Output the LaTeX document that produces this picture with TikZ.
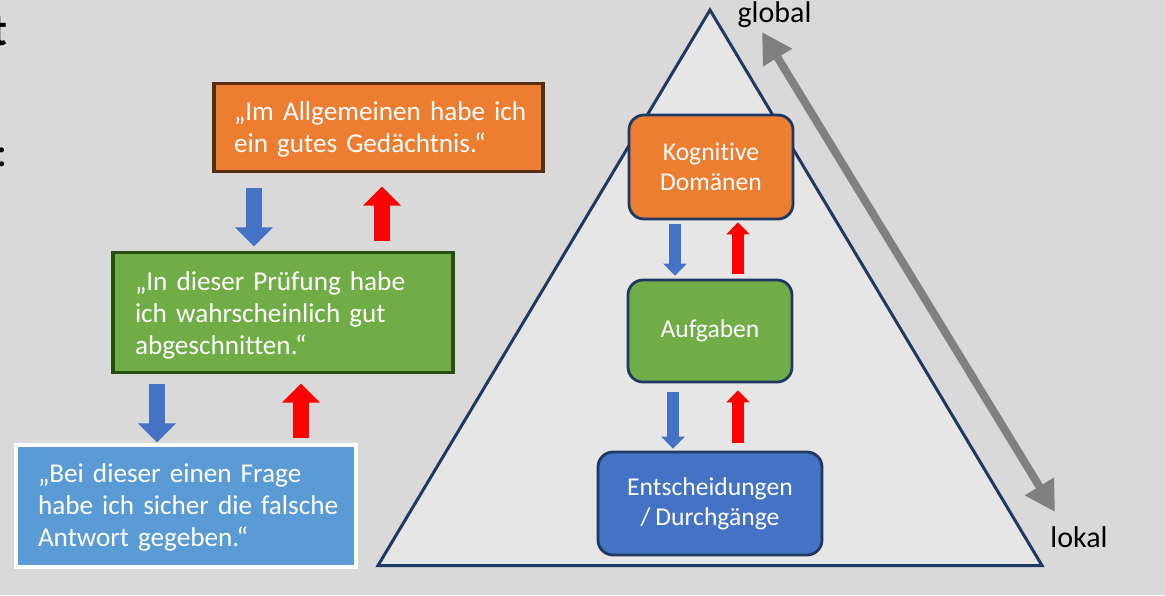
\documentclass[tikz,border=0pt]{standalone}
\usepackage{fontspec}
\setmainfont{Carlito}[WordSpace=0.85,Ligatures=NoCommon]
\usetikzlibrary{arrows.meta}
\definecolor{bgc}{HTML}{D9D9D9}
\definecolor{trifill}{HTML}{E7E6E6}
\definecolor{navy}{HTML}{1F3864}
\definecolor{orangec}{HTML}{ED7D31}
\definecolor{orangeb}{HTML}{5A2D0C}
\definecolor{greenc}{HTML}{70AD47}
\definecolor{greenb}{HTML}{274E13}
\definecolor{lblue}{HTML}{5B9BD5}
\definecolor{dblue}{HTML}{4472C4}
\definecolor{arrblue}{HTML}{4472C4}
\definecolor{arrred}{HTML}{FF0000}
\definecolor{grayarr}{HTML}{808080}
\tikzset{
  quotebox/.style={draw, line width=1.6pt, text=white, align=left, inner xsep=0pt,
    font=\fontsize{13.6}{16}\selectfont},
  levelbox/.style={draw=navy, line width=1.4pt, rounded corners=7.5pt, text=white, align=center,
    font=\fontsize{12.8}{15}\selectfont},
  bigdown/.style={draw=arrblue, line width=8pt, -{Triangle[width=18.5pt,length=9.5pt]}},
  bigup/.style={draw=arrred, line width=8pt, -{Triangle[width=18.5pt,length=9.5pt]}},
  smalldown/.style={draw=arrblue, line width=6pt, -{Triangle[width=11.5pt,length=6pt]}},
  smallup/.style={draw=arrred, line width=6pt, -{Triangle[width=11.5pt,length=6pt]}},
  scalearr/.style={draw=grayarr, line width=4pt, {Triangle[width=16pt,length=15pt]}-{Triangle[width=16pt,length=15pt]}},
  axislabel/.style={font=\fontsize{15}{18}\selectfont, text=black}
}
\begin{document}
\begin{tikzpicture}[x=0.5pt,y=-0.5pt]
\fill[bgc] (0,0) rectangle (1165,595);
\useasboundingbox (0,0) rectangle (1165,595);

% cut-off slide text at left edge
\node[anchor=base east, inner sep=0pt, font=\fontsize{23}{28}\selectfont\bfseries] (tcut) at (8,45) {t};
\node[anchor=base east, inner sep=0pt, font=\fontsize{21}{26}\selectfont] (colcut) at (8,166) {:};

% pyramid
\draw[navy, line width=1.5pt, fill=trifill, line join=miter] (710,10) -- (378,565.5) -- (1042,565.5) -- cycle;

% scale arrow
\coordinate (gtop) at (762,32);
\coordinate (gbot) at (1055,512);
\draw[scalearr] (gtop) -- (gbot);
\node[axislabel, anchor=base] (glob) at (774.5,22) {global};
\node[axislabel, anchor=base] (lok) at (1079,547) {lokal};

% left quote boxes
\node[quotebox, draw=orangeb, fill=orangec, minimum width=164.5pt, minimum height=44pt, text width=164.5pt,
  execute at begin node={\leftskip=10pt}] (o) at (378.5,127.5)
  {\rule{0pt}{11.5pt}„Im Allgemeinen habe ich\\ein gutes Gedächtnis.“};
\node[quotebox, draw=greenb, fill=greenc, minimum width=170pt, minimum height=60pt, text width=170pt,
  execute at begin node={\leftskip=11pt}] (g) at (283,312.5)
  {\rule{0pt}{12pt}„In dieser Prüfung habe\\ich wahrscheinlich gut\\abgeschnitten.“};
\node[quotebox, draw=white, fill=lblue, minimum width=170pt, minimum height=61pt, text width=170pt,
  execute at begin node={\leftskip=11pt}] (b) at (186,506)
  {\rule{0pt}{11pt}„Bei dieser einen Frage\\habe ich sicher die falsche\\Antwort gegeben.“};

\coordinate (x1) at (254,0);
\coordinate (x2) at (382,0);
\coordinate (x3) at (157,0);
\coordinate (x4) at (301,0);
\draw[bigdown, shorten <=7.25pt, shorten >=2.25pt] (o.south -| x1) -- (g.north -| x1);
\draw[bigup, shorten <=4.75pt, shorten >=6.75pt] (g.north -| x2) -- (o.south -| x2);
\draw[bigdown, shorten <=4.75pt, shorten >=0.5pt] (g.south -| x3) -- (b.north -| x3);
\draw[bigup, shorten <=2.5pt, shorten >=4.75pt] (b.north -| x4) -- (g.south -| x4);

% pyramid level boxes
\node[levelbox, fill=orangec, minimum width=82pt, minimum height=52pt] (kd) at (711,167) {Kognitive\\Domänen};
\node[levelbox, fill=greenc, minimum width=82pt, minimum height=51pt] (au) at (710,331) {Aufgaben};
\node[levelbox, fill=dblue, minimum width=112pt, minimum height=51.5pt] (ed) at (710,503.5) {Entscheidungen\\/ Durchgänge};

\coordinate (x5) at (675,0);
\coordinate (x6) at (738,0);
\coordinate (x7) at (673,0);
\draw[smalldown, shorten <=2pt, shorten >=1.5pt] (kd.south -| x5) -- (au.north -| x5);
\draw[smallup, shorten <=2.5pt, shorten >=1pt] (au.north -| x6) -- (kd.south -| x6);
\draw[smalldown, shorten <=4.5pt, shorten >=1pt] (au.south -| x7) -- (ed.north -| x7);
\draw[smallup, shorten <=4pt, shorten >=3.5pt] (ed.north -| x6) -- (au.south -| x6);
\end{tikzpicture}
\end{document}
